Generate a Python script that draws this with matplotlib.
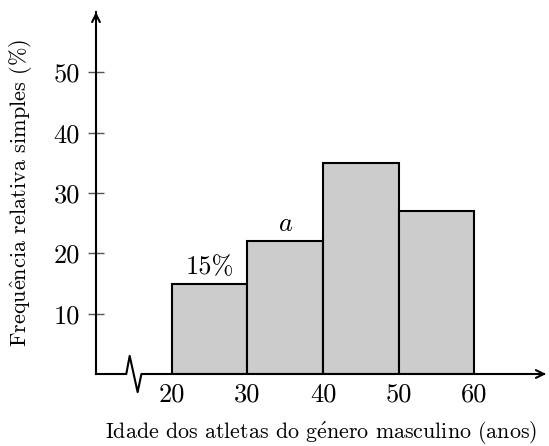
import matplotlib
matplotlib.use("Agg")
import matplotlib.pyplot as plt

plt.rcParams["font.family"] = ["cmr10", "DejaVu Serif"]
plt.rcParams["mathtext.fontset"] = "cm"
plt.rcParams["axes.unicode_minus"] = False

# data
bin_edges = [20, 30, 40, 50, 60]
freq = [15, 22, 35, 27]
bar_labels = ["15%", "$a$", "", ""]
y_ticks = [10, 20, 30, 40, 50]
# accents drawn with mathtext since cmr10 has no precomposed é / ê
x_label = r"Idade dos atletas do g$\acute{\mathrm{e}}$nero masculino (anos)"
y_label = r"Frequ$\hat{\mathrm{e}}$ncia relativa simples (%)"

fig = plt.figure(figsize=(5.49, 4.46), dpi=100)
ax = fig.add_axes([96 / 549, 72 / 446, 450 / 549, 362 / 446])
ax.set_xlim(10, 69.45)
ax.set_ylim(0, 60)

lefts = bin_edges[:-1]
widths = [b - a for a, b in zip(bin_edges[:-1], bin_edges[1:])]
ax.bar(lefts, freq, width=widths, align="edge", color="#cccccc",
       edgecolor="black", linewidth=1.5, zorder=2)

for x0, w, h, lab in zip(lefts, widths, freq, bar_labels):
    if lab:
        ax.text(x0 + w / 2, h + 0.8, lab, ha="center", va="bottom", fontsize=19)

for s in ["top", "right", "bottom"]:
    ax.spines[s].set_visible(False)
ax.spines["left"].set_linewidth(1.5)

# broken x axis
ax.plot([10, 14.0, 14.45, 15.5, 16.0, 69.2], [0, 0, 3.0, -3.0, 0, 0],
        color="black", lw=1.5, clip_on=False, zorder=3)
ax.annotate("", xy=(69.45, 0), xytext=(68.5, 0),
            arrowprops=dict(arrowstyle="->", lw=1.5, color="black",
                            mutation_scale=14, shrinkA=0, shrinkB=0),
            annotation_clip=False)
ax.annotate("", xy=(10, 60), xytext=(10, 59),
            arrowprops=dict(arrowstyle="->", lw=1.5, color="black",
                            mutation_scale=14, shrinkA=0, shrinkB=0),
            annotation_clip=False)

ax.set_yticks(y_ticks)
ax.set_yticklabels([str(t) for t in y_ticks], fontsize=19)
ax.tick_params(axis="y", direction="inout", length=11, width=1, color="#555555", pad=6)
ax.set_xticks(bin_edges)
ax.set_xticklabels([str(t) for t in bin_edges], fontsize=19)
ax.tick_params(axis="x", length=0, pad=6)

ax.set_xlabel(x_label, fontsize=15.8, labelpad=9)
ax.set_ylabel(y_label, fontsize=16, labelpad=14)

fig.savefig("out.png", dpi=100)
